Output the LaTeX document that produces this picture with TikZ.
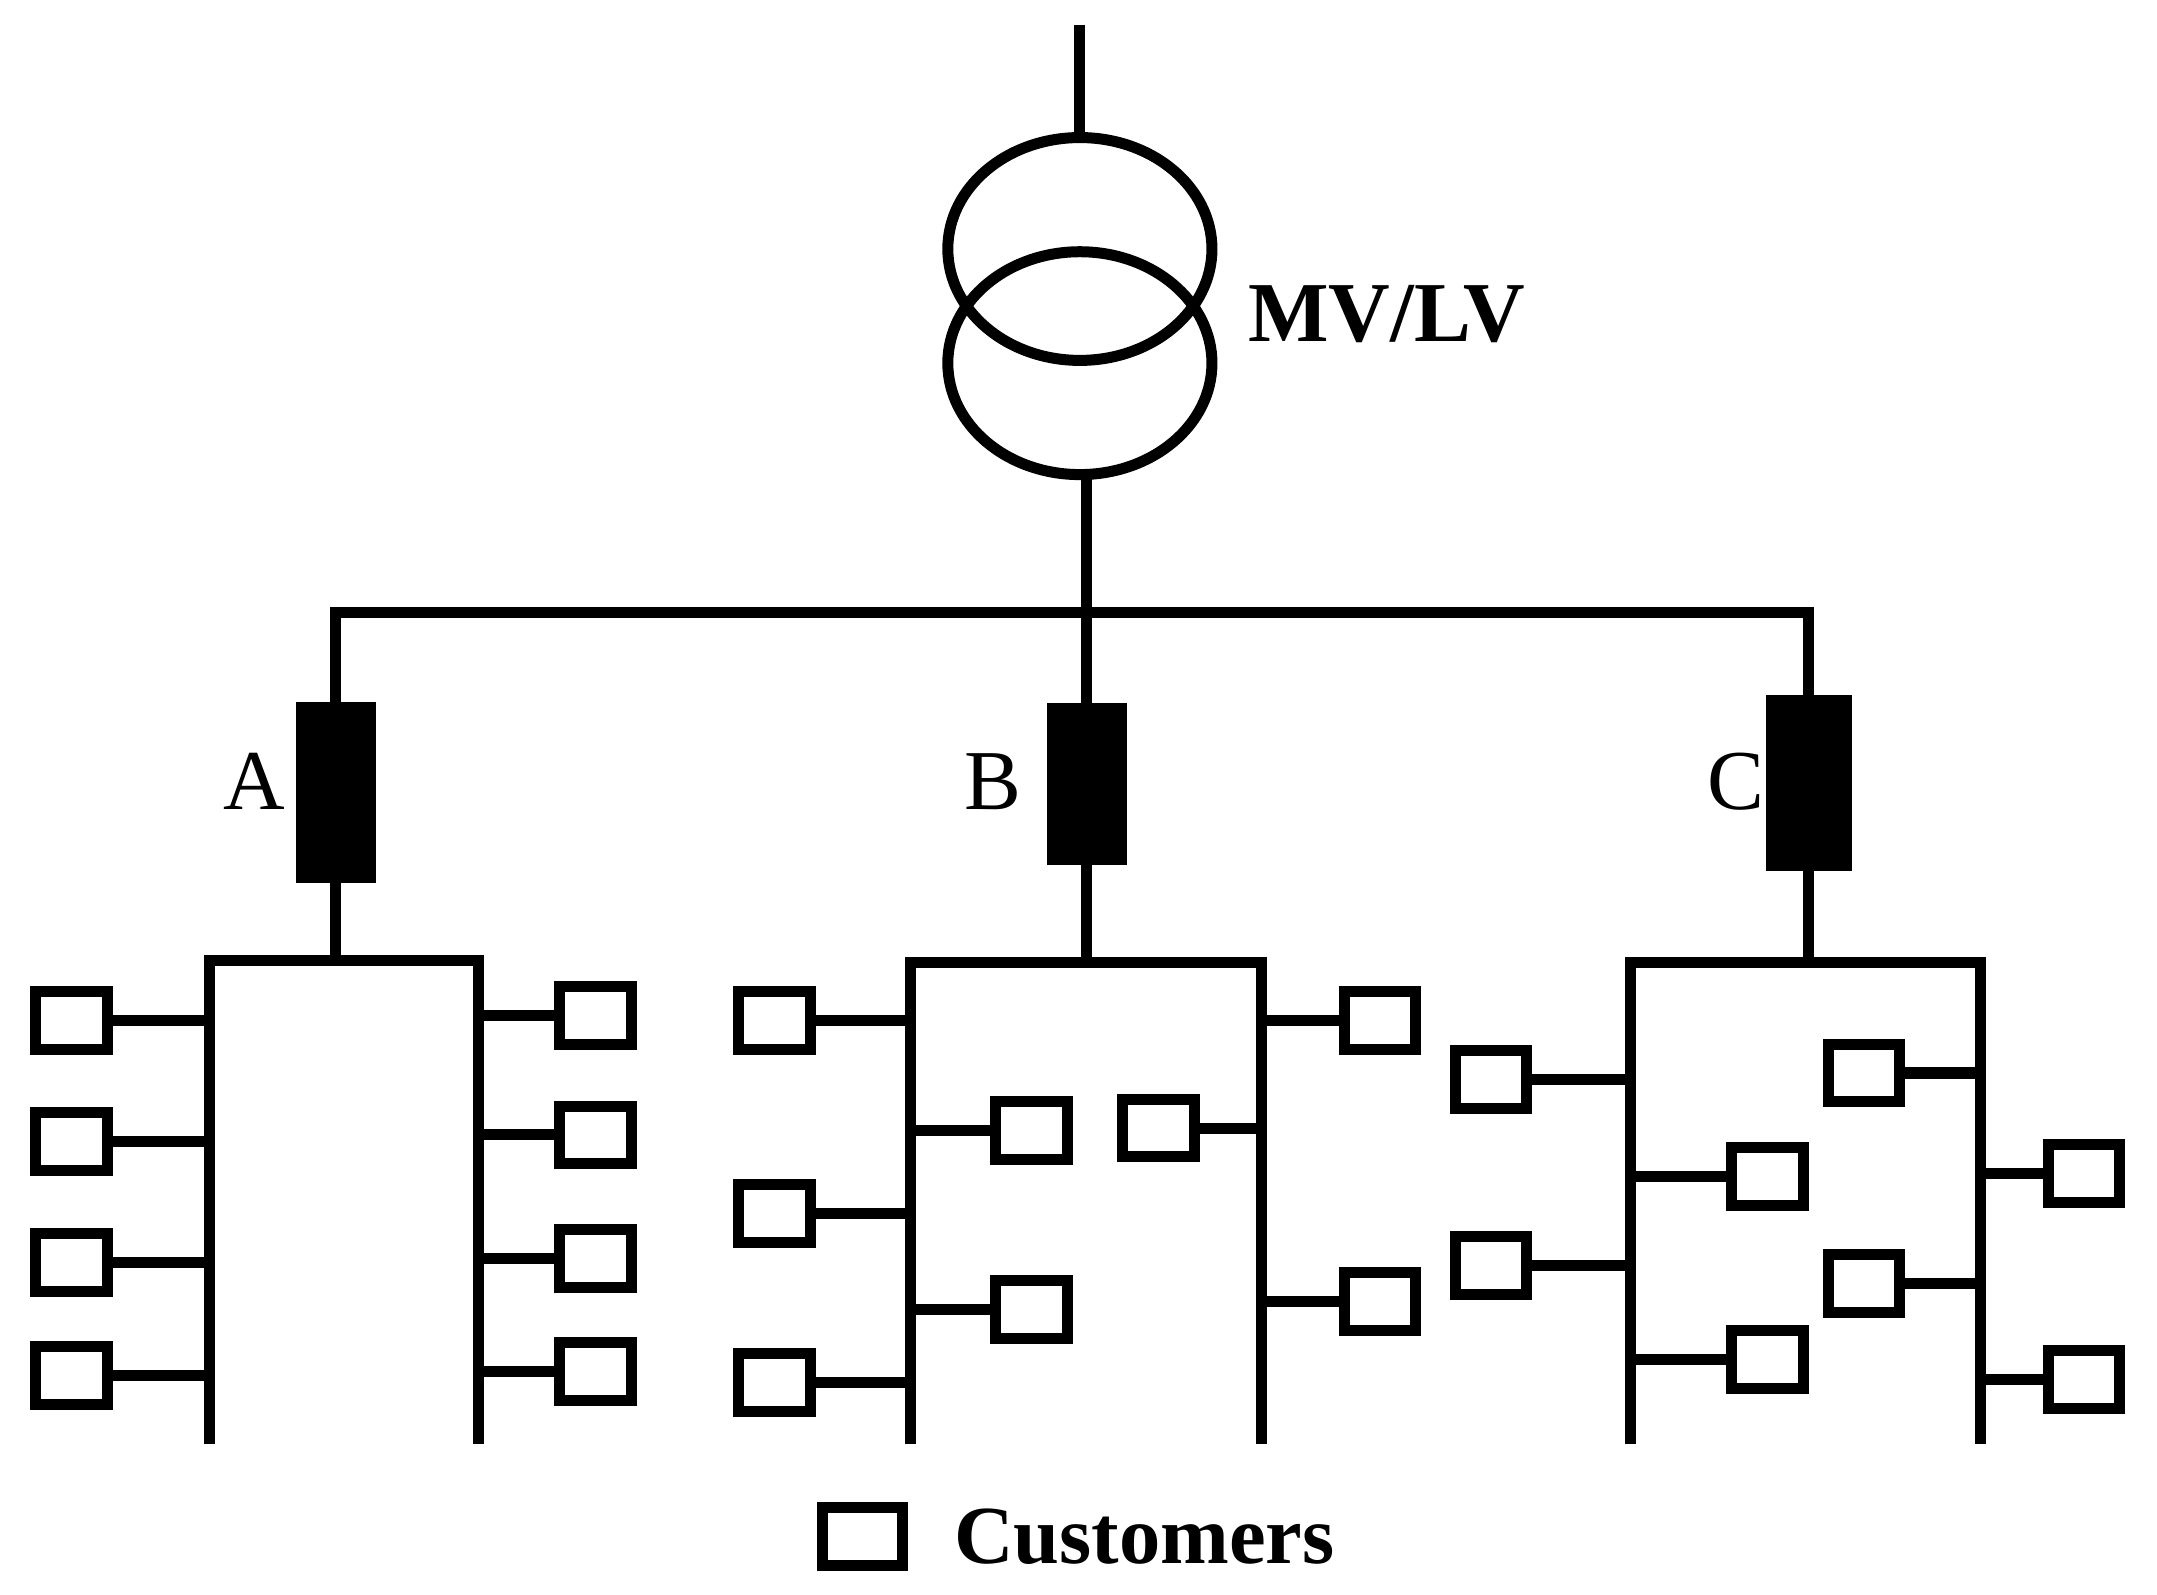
\documentclass[tikz,border=0pt]{standalone}
\usepackage{fontspec}
\setmainfont{Liberation Serif}
\begin{document}
\begin{tikzpicture}[x=0.5pt,y=-0.5pt,line width=4pt,
  cust/.style={draw,rectangle,minimum width=26pt,minimum height=21pt,inner sep=0pt},
  fuse/.style={draw,fill=black,rectangle,inner sep=0pt},
  lbl/.style={font=\fontsize{31}{31}\selectfont}]
\useasboundingbox (0,0) rectangle (1568,1159);
% transformer
\draw (785,18) -- (785,100);
\draw (785,181) ellipse [x radius=96,y radius=81];
\draw (785,264) ellipse [x radius=96,y radius=81];
\node[font=\fontsize{31}{31}\selectfont\bfseries] (mvlv) at (1008,228) {MV/LV};
\draw (790,346) -- (790,445);
% fuses
\node[fuse,minimum width=25pt,minimum height=62pt] (fA) at (244,576) {};
\node[fuse,minimum width=25pt,minimum height=55pt] (fB) at (790,570) {};
\node[fuse,minimum width=27pt,minimum height=60pt] (fC) at (1315,569.5) {};
\node[lbl] at (185,568) {A};
\node[lbl] at (722,568) {B};
\node[lbl] at (1262,568) {C};
\draw (fA.north) -- (244,445) -- (1315,445) -- (fC.north);
\draw (790,445) -- (fB.north);
\draw (fA.south) -- (244,698); \draw (fB.south) -- (790,700); \draw (fC.south) -- (1315,700);
% buses
\draw (152,1050) -- (152,698) -- (348,698) -- (348,1050);
\draw (662,1050) -- (662,700) -- (917,700) -- (917,1050);
\draw (1185,1050) -- (1185,700) -- (1440,700) -- (1440,1050);
% customers
\foreach \n/\x/\y/\bx in {a1/52/742/152,a2/52/830/152,a3/52/918/152,a4/52/1000/152,
  a5/433/738/348,a6/433/825/348,a7/433/915/348,a8/433/997/348,
  b1/563/742/662,b2/563/882/662,b3/563/1005/662,b4/750/822/662,b5/750/952/662,
  b6/842/820/917,b7/1003/742/917,b8/1003/946/917,
  c1/1084/785/1185,c2/1084/920/1185,c3/1285/855/1185,c4/1285/988/1185,
  c5/1355/780/1440,c6/1355/933/1440,c7/1515/853/1440,c8/1515/1003/1440}{
  \node[cust] (\n) at (\x,\y) {};
  \coordinate (\n t) at (\bx,\y);
  \ifdim \x pt<\bx pt \draw (\n.east) -- (\n t); \else \draw (\n.west) -- (\n t); \fi
}
% legend
\node[cust,minimum width=29pt] (leg) at (627,1117) {};
\node[font=\fontsize{30}{30}\selectfont\bfseries,anchor=west] at (683,1117) {Customers};
\end{tikzpicture}
\end{document}
